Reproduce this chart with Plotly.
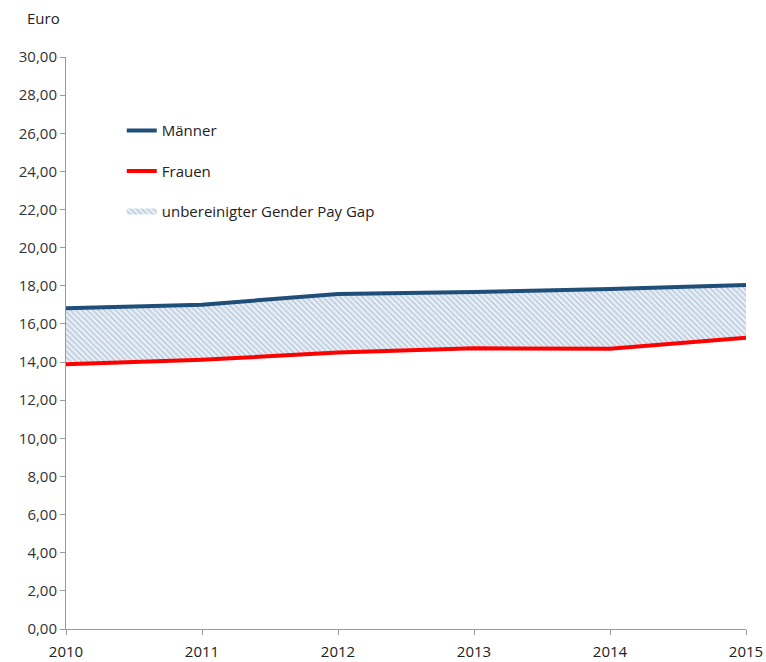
import plotly.graph_objects as go

years = [2010, 2011, 2012, 2013, 2014, 2015]
maenner = [16.82, 17.01, 17.57, 17.67, 17.83, 18.04]
frauen = [13.88, 14.12, 14.50, 14.72, 14.70, 15.28]
y_ticks = [0, 2, 4, 6, 8, 10, 12, 14, 16, 18, 20, 22, 24, 26, 28, 30]
y_labels = [f"{v:.2f}".replace(".", ",") for v in y_ticks]

blue = "#1F4E79"
red = "#FF0000"
font = "Open Sans, Liberation Sans, sans-serif"

fig = go.Figure()
# baseline for fill
fig.add_trace(go.Scatter(x=years, y=frauen, mode="lines", line=dict(width=0, color=red),
                         showlegend=False, hoverinfo="skip"))
fig.add_trace(go.Scatter(x=years, y=maenner, mode="none", fill="tonexty",
                         name="unbereinigter Gender Pay Gap",
                         fillcolor="#eef2f7",
                         fillpattern=dict(shape="\\", fgcolor="#8DA6C1", bgcolor="#e9f0f7",
                                          size=4, solidity=0.4),
                         legendgroup="c", legendrank=3))
fig.add_trace(go.Scatter(x=years, y=maenner, mode="lines", name="Männer",
                         line=dict(color=blue, width=4), legendgroup="a", legendrank=1))
fig.add_trace(go.Scatter(x=years, y=frauen, mode="lines", name="Frauen",
                         line=dict(color=red, width=4), legendgroup="b", legendrank=2))

fig.update_layout(
    width=766, height=662,
    margin=dict(l=66, r=20, t=57, b=33),
    paper_bgcolor="white", plot_bgcolor="white",
    font=dict(family=font, size=15, color="#333333"),
    showlegend=True,
    legend=dict(x=0.082, y=0.90, xanchor="left", yanchor="top",
                traceorder="grouped", tracegroupgap=18,
                bgcolor="rgba(0,0,0,0)", font=dict(size=15, color="#222222")),
    annotations=[dict(text="Euro", x=-0.06, y=1.047, xref="paper", yref="paper",
                      xanchor="left", yanchor="bottom", showarrow=False,
                      font=dict(size=15, color="#222222"))],
)
fig.update_xaxes(range=[2010, 2015], tickmode="array", tickvals=years,
                 ticktext=[str(y) for y in years], automargin=False,
                 ticklabeloverflow="allow", ticklabelstandoff=4,
                 showline=True, linecolor="#9a9a9a", linewidth=1,
                 ticks="outside", ticklen=5, tickcolor="#9a9a9a",
                 showgrid=False, zeroline=False,
                 tickfont=dict(size=15, color="#222222"))
fig.update_yaxes(range=[0, 30], tickmode="array", tickvals=y_ticks, ticktext=y_labels,
                 automargin=False,
                 showline=True, linecolor="#9a9a9a", linewidth=1,
                 ticks="outside", ticklen=5, tickcolor="#9a9a9a",
                 showgrid=False, zeroline=False,
                 tickfont=dict(size=15, color="#333333"))

fig.write_html("out.html", config={"displayModeBar": False},
               post_script="document.body.style.margin='0';document.body.style.overflow='hidden';")
